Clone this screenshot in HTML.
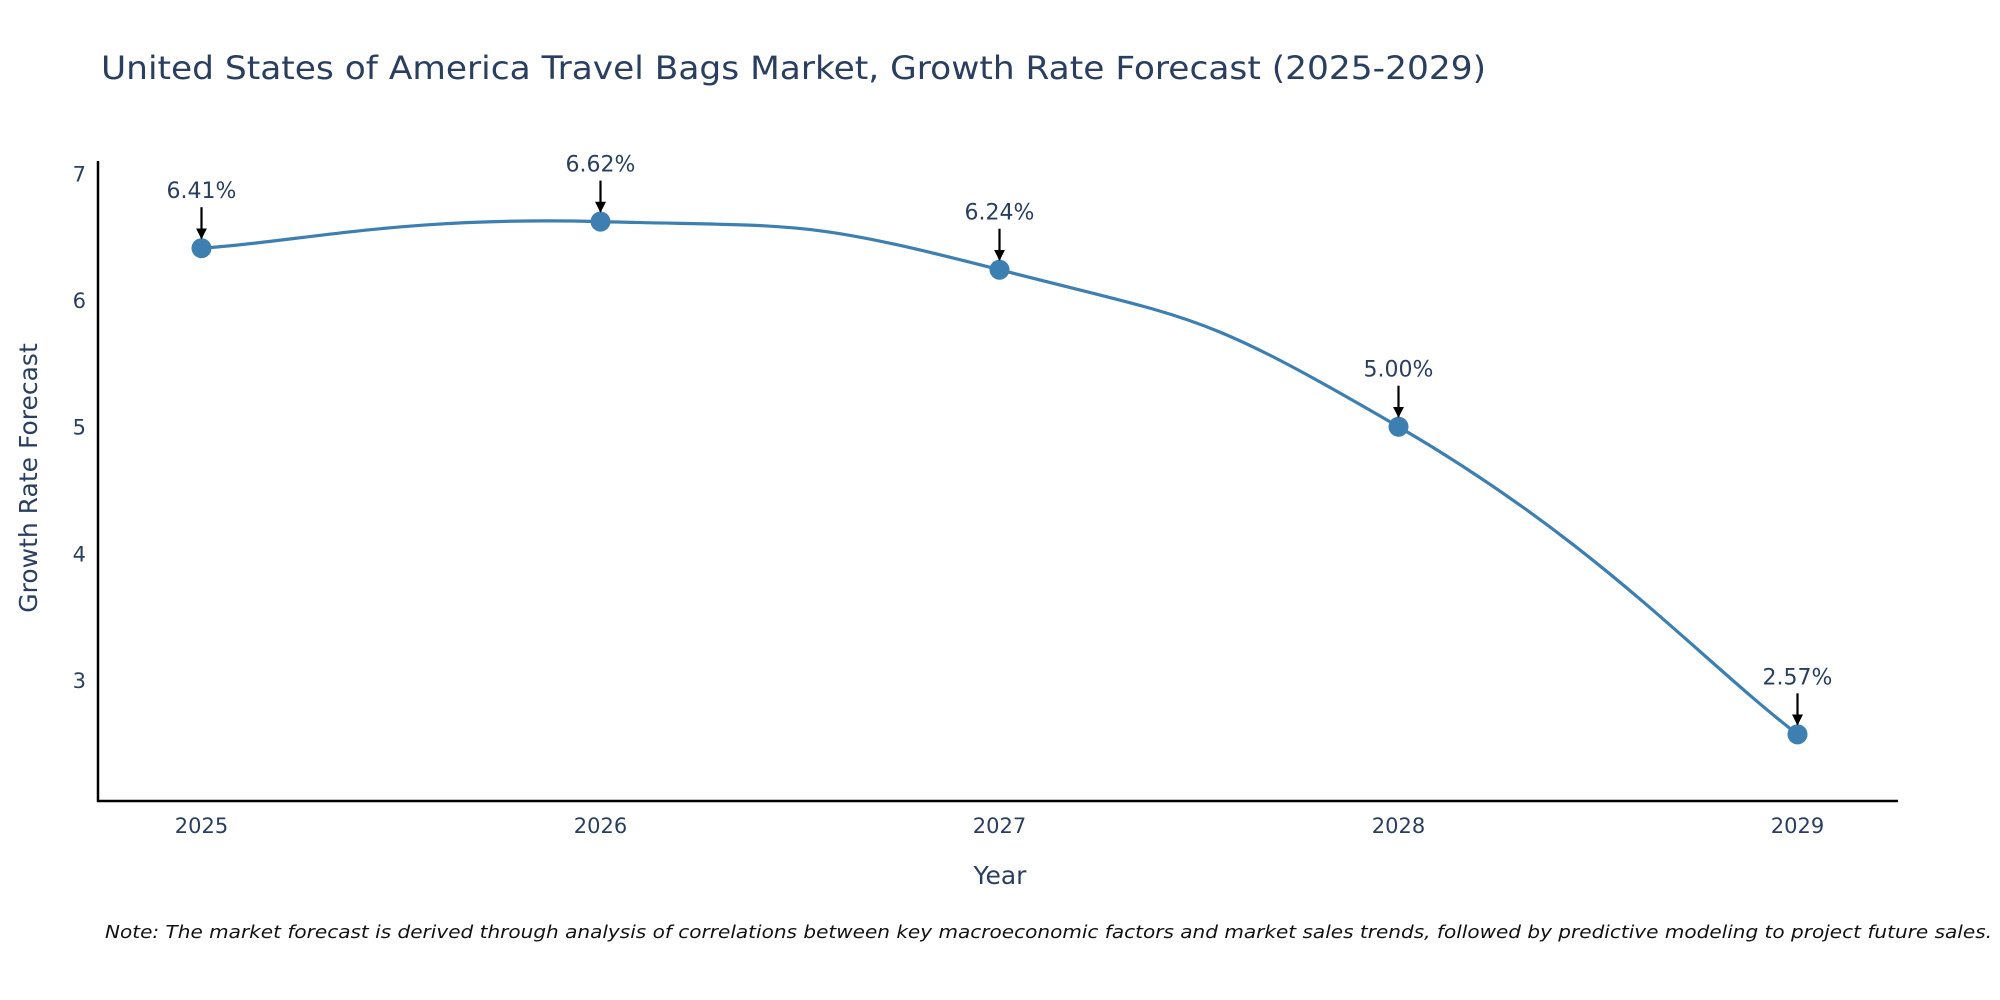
<!DOCTYPE html>
<html><head><meta charset="utf-8"><style>
html,body{margin:0;padding:0;background:#fff;}
svg{display:block;font-family:"DejaVu Sans","Liberation Sans",sans-serif;}
</style></head><body>
<svg id="chart" width="2000" height="1000" viewBox="0 0 2000 1000" xmlns="http://www.w3.org/2000/svg">
<defs><marker id="ah" viewBox="0 0 10 10" refX="9" refY="5" markerWidth="5" markerHeight="5" orient="auto"><path d="M0,0 L10,5 L0,10 z" fill="#000"/></marker></defs>
<text x="101" y="79" font-size="32" fill="#2a3f5f" textLength="1385" lengthAdjust="spacingAndGlyphs">United States of America Travel Bags Market, Growth Rate Forecast (2025-2029)</text>
<g id="yticks"></g><g id="xticks"></g>
<line x1="98" y1="161" x2="98" y2="802" stroke="#000" stroke-width="2.5"/>
<line x1="97" y1="801" x2="1898" y2="801" stroke="#000" stroke-width="2.5"/>
<g id="series"></g>
<text transform="translate(37,478) rotate(-90)" text-anchor="middle" font-size="25" fill="#2a3f5f">Growth Rate Forecast</text>
<text x="1000" y="884" text-anchor="middle" font-size="25" fill="#2a3f5f">Year</text>
<text x="105" y="938" font-size="18" font-style="italic" fill="#111" textLength="1887" lengthAdjust="spacingAndGlyphs">Note: The market forecast is derived through analysis of correlations between key macroeconomic factors and market sales trends, followed by predictive modeling to project future sales.</text>
</svg>
<script>
const years = [2025, 2026, 2027, 2028, 2029];
const growth = [6.41, 6.62, 6.24, 5.00, 2.57];
const labels = ["6.41%", "6.62%", "6.24%", "5.00%", "2.57%"];
const yTicks = [3, 4, 5, 6, 7];
const NS = "http://www.w3.org/2000/svg";
function xs(v){ return 201.5 + (v - 2025) * 399; }
function ys(v){ return 173.5 + (7 - v) * 126.6; }
function mk(tag, attrs, parent){ const e = document.createElementNS(NS, tag); for (const k in attrs) e.setAttribute(k, attrs[k]); parent.appendChild(e); return e; }
const yg = document.getElementById('yticks');
yTicks.forEach(t => {
  const e = mk('text', {x: 86, y: ys(t) + 8, 'text-anchor': 'end', 'font-size': 21, fill: '#2a3f5f'}, yg);
  
  
  e.textContent = t;
});
const xg = document.getElementById('xticks');
years.forEach(y => {
  const e = mk('text', {x: xs(y), y: 833, 'text-anchor': 'middle', 'font-size': 21, fill: '#2a3f5f'}, xg);
  
  
  e.textContent = y;
});
const sg = document.getElementById('series');
const pts = years.map((y, i) => [xs(y), ys(growth[i])]);
let d = `M${pts[0][0]},${pts[0][1]}`;
const tn = 0.25;
for (let i = 0; i < pts.length - 1; i++) {
  const p0 = pts[Math.max(i - 1, 0)], p1 = pts[i], p2 = pts[i + 1], p3 = pts[Math.min(i + 2, pts.length - 1)];
  const c1 = [p1[0] + (p2[0] - p0[0]) * tn, p1[1] + (p2[1] - p0[1]) * tn];
  const c2 = [p2[0] - (p3[0] - p1[0]) * tn, p2[1] - (p3[1] - p1[1]) * tn];
  d += ` C${c1[0]},${c1[1]} ${c2[0]},${c2[1]} ${p2[0]},${p2[1]}`;
}
const line = mk('path', {d: d, fill: 'none', stroke: '#3d7fb0', 'stroke-width': 3.2}, sg);


pts.forEach((p, i) => {
  const c = mk('circle', {cx: p[0], cy: p[1], r: 10, fill: '#3d7fb0'}, sg);
  
  
  const a = mk('line', {x1: p[0], y1: p[1] - 41, x2: p[0], y2: p[1] - 10, stroke: '#000', 'stroke-width': 2.2, 'marker-end': 'url(#ah)'}, sg);
  
  
  const t = mk('text', {x: p[0], y: p[1] - 50, 'text-anchor': 'middle', 'font-size': 22, fill: '#2a3f5f'}, sg);
  
  
  t.textContent = labels[i];
});
</script>
</body></html>
